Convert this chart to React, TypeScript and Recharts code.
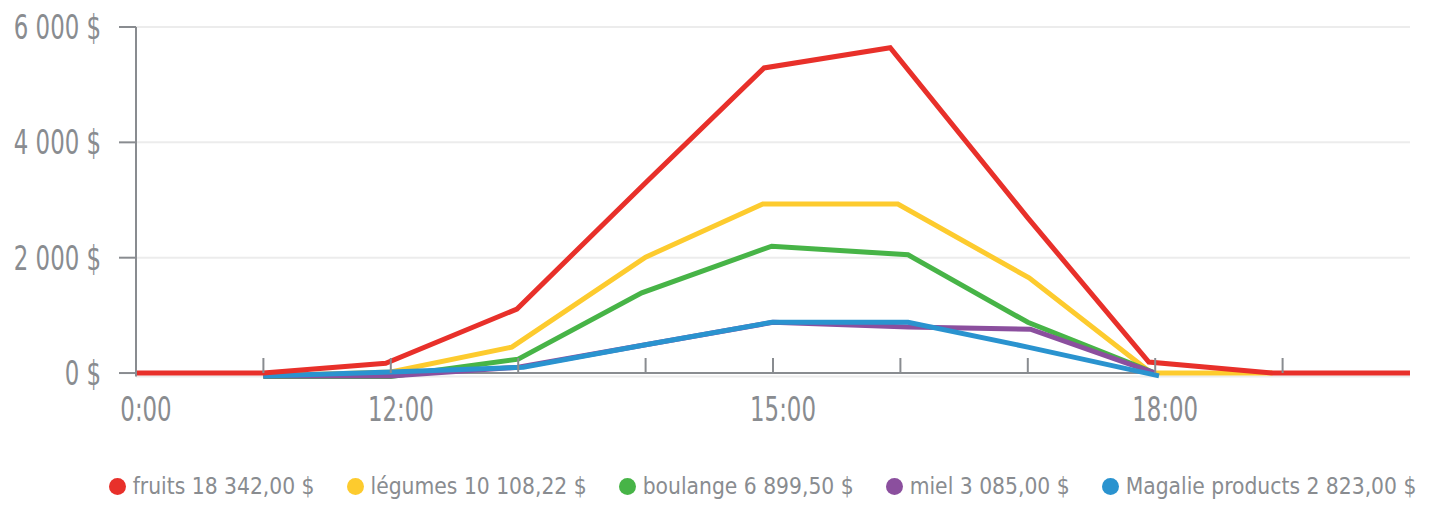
import { LineChart, Line, XAxis, YAxis, CartesianGrid, Legend, ReferenceLine } from "recharts";

const FONT = '"Liberation Sans Narrow", "DejaVu Sans Condensed", "Roboto", sans-serif';
const GREY = "#898c90";
const SQUEEZE = 0.77;

const seriesNames = ["fruits", "légumes", "boulange", "miel", "Magalie products"];
const seriesTotals = ["18 342,00 $", "10 108,22 $", "6 899,50 $", "3 085,00 $", "2 823,00 $"];
const seriesColors = ["#e8302a", "#fdcb2e", "#47b447", "#8b4f9e", "#2a93cf"];

const fruitsHours = [10, 11, 11.96, 12.99, 14, 14.93, 15.92, 17, 17.95, 18.92, 20];
const fruitsValues = [0, 0, 170, 1110, 3300, 5290, 5640, 2690, 190, 0, 0];
const legumesHours = [11, 12, 12.95, 14, 14.92, 15.98, 17.01, 17.97, 18.92];
const legumesValues = [-50, 20, 450, 2010, 2930, 2930, 1650, 0, 0];
const boulangeHours = [11, 12, 13, 13.97, 14.99, 16.06, 17, 18];
const boulangeValues = [-60, -60, 240, 1390, 2200, 2050, 880, 0];
const mielHours = [11, 12, 13, 14, 15, 16.06, 17.02, 18];
const mielValues = [-50, -50, 100, 490, 880, 800, 760, 0];
const magalieHours = [11, 12, 13.04, 14, 14.99, 16.06, 17, 18.03];
const magalieValues = [-50, 20, 100, 490, 880, 880, 450, -50];

const xTicks = [10, 11, 12, 13, 14, 15, 16, 17, 18, 19];
const xTickLabels: Record<number, string> = { 10: "0:00", 12: "12:00", 15: "15:00", 18: "18:00" };
const yTicks = [0, 2000, 4000, 6000];

const zip = (hours: number[], values: number[]) => hours.map((h, i) => ({ hour: h, value: values[i] }));
const seriesData = [
  zip(fruitsHours, fruitsValues),
  zip(legumesHours, legumesValues),
  zip(boulangeHours, boulangeValues),
  zip(mielHours, mielValues),
  zip(magalieHours, magalieValues),
];
// drawing order: red on top
const drawOrder = [1, 2, 3, 4, 0];

const money = (v: number) => String(v).replace(/\B(?=(\d{3})+(?!\d))/g, " ") + " $";

const XTick = (props: any) => {
  const { x, y, payload } = props;
  const label = xTickLabels[payload.value] ?? "";
  return (
    <g>
      {payload.value !== 10 && <line x1={x} x2={x} y1={y - 18.5} y2={y - 3.5} stroke={GREY} strokeWidth={2} />}
      <g transform={`translate(${x + 10},${y + 44})`}>
        <text transform={`scale(${SQUEEZE},1)`} textAnchor="middle" fill={GREY} fontSize={33} fontFamily={FONT}>{label}</text>
      </g>
    </g>
  );
};

const YTick = (props: any) => {
  const { x, y, payload } = props;
  return (
    <g transform={`translate(${x},${y})`}>
      <text transform={`scale(${SQUEEZE},1)`} textAnchor="end" dy="0.36em" fill={GREY} fontSize={33} fontFamily={FONT}>
        {money(payload.value)}
      </text>
    </g>
  );
};

const LegendContent = () => (
  <div style={{ display: "flex", justifyContent: "center", paddingTop: 16, transform: "translateX(45px)",
    fontFamily: FONT, fontSize: 22.6, color: GREY, lineHeight: "26px", whiteSpace: "nowrap" }}>
    {seriesNames.map((n, i) => (
      <div key={n} style={{ display: "flex", alignItems: "center", flexShrink: 0, marginRight: i < seriesNames.length - 1 ? 32 : 0 }}>
        <span style={{ width: 17, height: 17, borderRadius: "50%", background: seriesColors[i], display: "inline-block", marginRight: 7 }} />
        <span>{n} {seriesTotals[i]}</span>
      </div>
    ))}
  </div>
);

export default function App() {
  return (
    <div style={{ position: "absolute", left: 0, top: 0, width: 1435, height: 505, background: "#fff", overflow: "hidden" }}>
      <LineChart width={1435} height={505} margin={{ top: 27, right: 25, left: 0, bottom: 0 }}>
        <CartesianGrid horizontal vertical={false} stroke="#ececec" strokeWidth={2} />
        <XAxis type="number" dataKey="hour" domain={[10, 20]} ticks={xTicks} interval={0} height={80.5}
          axisLine={false} tickLine={false} tickSize={0} tickMargin={0} tick={<XTick />} />
        <YAxis type="number" domain={[-60, 6000]} ticks={yTicks} width={136}
          axisLine={{ stroke: GREY, strokeWidth: 2 }} tickLine={{ stroke: GREY, strokeWidth: 2 }} tickSize={17} tickMargin={18}
          tick={<YTick />} />
        <ReferenceLine y={0} stroke={GREY} strokeWidth={2} />
        {drawOrder.map((i) => (
          <Line key={seriesNames[i]} data={seriesData[i]} dataKey="value" name={seriesNames[i]} type="linear"
            stroke={seriesColors[i]} strokeWidth={5} dot={false} activeDot={false} isAnimationActive={false} />
        ))}
        <Legend verticalAlign="bottom" content={<LegendContent />} wrapperStyle={{ height: 48, left: 0, width: 1435 }} />
      </LineChart>
    </div>
  );
}
